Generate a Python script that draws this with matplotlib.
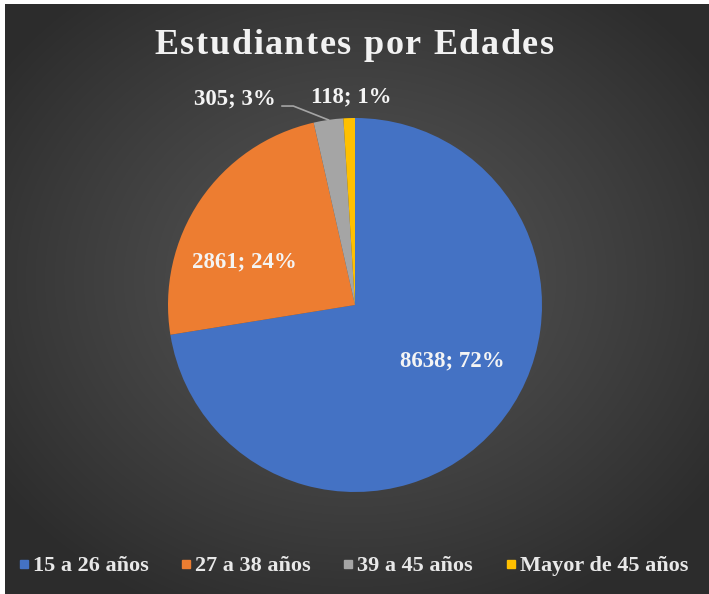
import numpy as np
import matplotlib
matplotlib.use("Agg")
import matplotlib.pyplot as plt
from matplotlib.lines import Line2D

# datos
categorias = ["15 a 26 años", "27 a 38 años", "39 a 45 años", "Mayor de 45 años"]
valores = [8638, 2861, 305, 118]
colores = ["#4472C4", "#ED7D31", "#A5A5A5", "#FFC000"]
titulo = "Estudiantes por Edades"

# posiciones de las etiquetas (en radios del pastel)
pos_etiquetas = [(0.52, -0.30), (-0.59, 0.23), (-0.64, 1.10), (-0.02, 1.115)]

W, H, DPI = 709, 594, 100
R_PX = 187.0
CX, CY = 355.0, 305.0   # centro del pastel, px desde arriba
FUENTE = "Liberation Serif"

fig = plt.figure(figsize=(W / DPI, H / DPI), dpi=DPI, facecolor="white")

# fondo con degradado radial
bg = fig.add_axes([5 / W, 0, 1 - 5 / W, (H - 4) / H])
bg.set_axis_off()
yy, xx = np.mgrid[0:H - 4, 0:W - 5]
d = np.hypot((xx - (CX - 5)) / (W * 0.62), (yy - (CY - 30)) / (H * 0.62))
g = np.clip(0x55 - (0x55 - 0x2c) * d ** 1.2, 0x2c, 0x55) / 255.0
bg.imshow(np.dstack([g, g, g]), aspect="auto", interpolation="bilinear")

ax = fig.add_axes([0, 0, 1, 1])
ax.patch.set_alpha(0)
wedges, _ = ax.pie(valores, colors=colores, startangle=90, counterclock=False,
                   radius=1.0, center=(0, 0), frame=True,
                   wedgeprops=dict(linewidth=0))
ax.set_axis_off()
ax.set_xlim(-CX / R_PX, (W - CX) / R_PX)
ax.set_ylim(-(H - CY) / R_PX, CY / R_PX)
ax.set_aspect("auto")

total = sum(valores)
for v, (x, y) in zip(valores, pos_etiquetas):
    ax.text(x, y, f"{v}; {round(100 * v / total)}%", ha="center", va="center",
            fontsize=16.5, fontweight="bold", family=FUENTE, color="#f4f4f4")

# linea guia para 39 a 45
w = wedges[2]
ang = np.deg2rad((w.theta1 + w.theta2) / 2)
ax.plot([-0.39, -0.33, np.cos(ang)], [1.064, 1.064, np.sin(ang)],
        color="#a5a5a5", lw=1.2)

# titulo con espaciado entre letras
fig.canvas.draw()
ren = fig.canvas.get_renderer()
tam_titulo = 26
espacio = 1.6
def ancho(s):
    t = fig.text(0, 0, s, fontsize=tam_titulo, fontweight="bold", family=FUENTE)
    wpx = t.get_window_extent(ren).width
    t.remove()
    return wpx
anchos = []
for ch in titulo:
    if ch == " ":
        anchos.append(ancho("a a") - ancho("aa"))
    else:
        anchos.append(ancho(ch))
total_w = sum(anchos) + espacio * (len(titulo) - 1)
x0 = 354 - total_w / 2
for ch, a in zip(titulo, anchos):
    if ch != " ":
        fig.text(x0 / W, 1 - 45 / H, ch, fontsize=tam_titulo, fontweight="bold",
                 family=FUENTE, color="#f2f2f2", va="center", ha="left")
    x0 += a + espacio

# leyenda
handles = [Line2D([], [], marker="s", ls="", markersize=6, color=c) for c in colores]
fig.legend(handles, categorias, loc="center", bbox_to_anchor=(353 / W, 28 / H),
           ncol=4, frameon=False, handlelength=0.5, handletextpad=0.15,
           columnspacing=1.45, borderaxespad=0,
           prop=dict(family=FUENTE, weight="bold", size=16), labelcolor="#e8e8e8")

fig.savefig("out.png", dpi=DPI, facecolor="white")
